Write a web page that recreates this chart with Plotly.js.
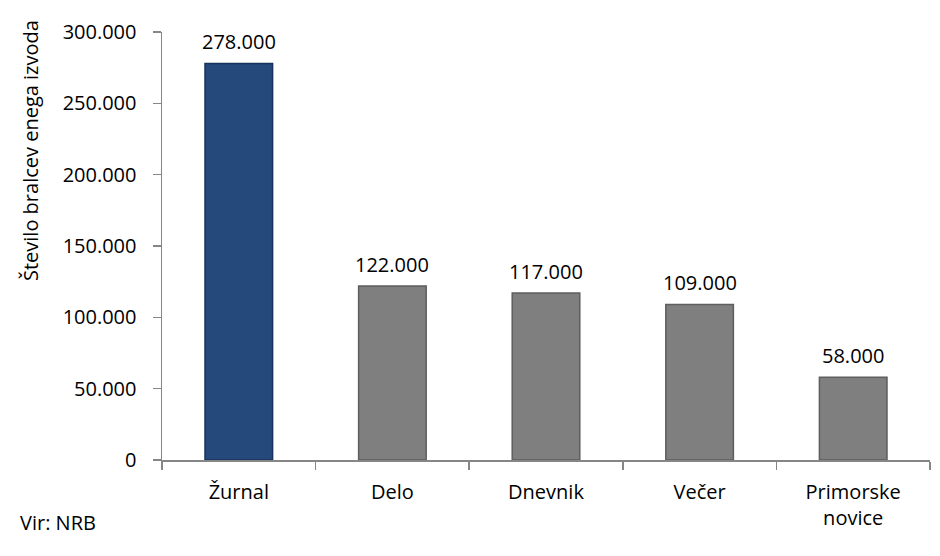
<!DOCTYPE html>
<html>
<head>
<meta charset="utf-8">
<script src="https://cdn.plot.ly/plotly-3.0.1.min.js"></script>
<style>html,body{margin:0;padding:0;background:#fff;}</style>
</head>
<body>
<div id="chart" style="width:940px;height:556px;"></div>
<script>
var categories = ["Žurnal", "Delo", "Dnevnik", "Večer", "Primorske<br>novice"];
var readers = [278000, 122000, 117000, 109000, 58000];
var barColors = ["#25497b", "#7f7f7f", "#7f7f7f", "#7f7f7f", "#7f7f7f"];
var barLines = ["#17325a", "#5e5e5e", "#5e5e5e", "#5e5e5e", "#5e5e5e"];
var yTickVals = [0, 50000, 100000, 150000, 200000, 250000, 300000];

var FONT = "Open Sans, Liberation Sans, sans-serif";
var SIZE = 20;

function fmt(v) {
  return String(v).replace(/\B(?=(\d{3})+(?!\d))/g, ".");
}

var trace = {
  type: "bar",
  x: categories,
  y: readers,
  marker: { color: barColors, line: { color: barLines, width: 1.5 } },
  hoverinfo: "x+y"
};

var labelAnnotations = categories.map(function (c, i) {
  return {
    x: c, y: readers[i], xref: "x", yref: "y",
    text: fmt(readers[i]),
    xanchor: "center", yanchor: "bottom",
    yshift: 6,
    showarrow: false,
    font: { family: FONT, size: SIZE, color: "#000" }
  };
});

var layout = {
  width: 940,
  height: 556,
  margin: { l: 162, r: 10, t: 32, b: 96 },
  paper_bgcolor: "#fff",
  plot_bgcolor: "#fff",
  separators: ",.",
  bargap: 0.56,
  showlegend: false,
  font: { family: FONT, size: SIZE, color: "#000" },
  xaxis: {
    showline: true,
    linecolor: "#868686",
    linewidth: 1.5,
    ticks: "outside",
    tickson: "boundaries",
    ticklen: 8,
    tickcolor: "#868686",
    tickwidth: 1.5,
    ticklabelstandoff: 13,
    tickfont: { family: FONT, size: SIZE, color: "#000" },
    showgrid: false,
    zeroline: false,
    fixedrange: true
  },
  yaxis: {
    range: [0, 300000],
    tickvals: yTickVals,
    tickformat: ",d",
    showline: true,
    linecolor: "#868686",
    linewidth: 1.5,
    ticks: "outside",
    ticklen: 8,
    tickcolor: "#868686",
    tickwidth: 1.5,
    ticklabelstandoff: 12,
    tickfont: { family: FONT, size: SIZE, color: "#000" },
    showgrid: false,
    zeroline: false,
    fixedrange: true
  },
  annotations: labelAnnotations.concat([
    {
      text: "Število bralcev enega izvoda",
      xref: "paper", yref: "paper",
      x: -0.172, y: 0.724,
      xanchor: "center", yanchor: "middle",
      textangle: -90,
      showarrow: false,
      font: { family: FONT, size: 20, color: "#000" }
    },
    {
      text: "Vir: NRB",
      xref: "paper", yref: "paper",
      x: -0.1875, y: -0.147,
      xanchor: "left", yanchor: "middle",
      showarrow: false,
      font: { family: FONT, size: SIZE, color: "#000" }
    }
  ])
};

Plotly.newPlot("chart", [trace], layout, { displayModeBar: false, staticPlot: true });
</script>
</body>
</html>
